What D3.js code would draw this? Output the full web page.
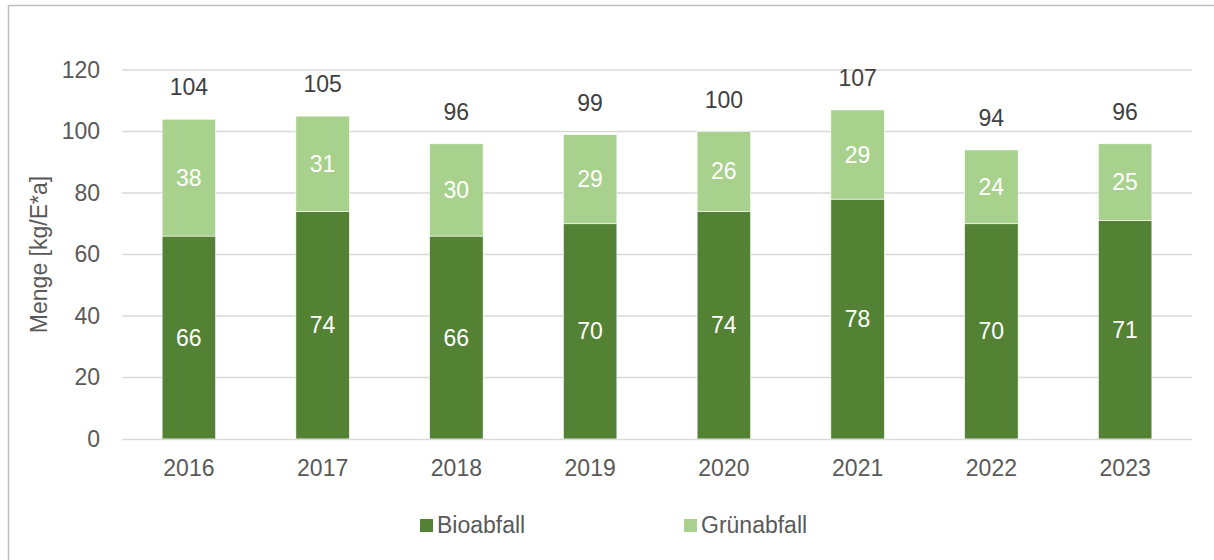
<!DOCTYPE html>
<html lang="de">
<head>
  <meta charset="UTF-8">
  <title>Bio- und Grünabfall</title>
  <script src="https://cdn.jsdelivr.net/npm/d3@7"></script>
  <style>
    body { margin: 0; background: #fff; }
    svg { display: block; font-family: "Liberation Sans", Arial, sans-serif; }
  </style>
</head>
<body>
<div id="app"></div>
<script>
  const years = ['2016', '2017', '2018', '2019', '2020', '2021', '2022', '2023'];
  const bioabfall = [66, 74, 66, 70, 74, 78, 70, 71];
  const gruenabfall = [38, 31, 30, 29, 26, 29, 24, 25];
  const totals = [104, 105, 96, 99, 100, 107, 94, 96];
  const yTicks = [0, 20, 40, 60, 80, 100, 120];
  const seriesNames = ['Bioabfall', 'Grünabfall'];
  const colors = ['#548235', '#a9d18e'];

  const w = 1214;
  const h = 560;
  const margin = { left: 122, right: 22, top: 70, bottom: 121 };
  const fs = 23;

  const svg = d3.select('#app')
    .append('svg')
    .attr('width', w)
    .attr('height', h);

  // chart frame
  svg.append('rect')
    .attr('x', 8.5)
    .attr('y', 5.5)
    .attr('width', w + 10)
    .attr('height', h + 10)
    .attr('fill', 'none')
    .attr('stroke', '#c0c0c0')
    .attr('stroke-width', 1.5);

  const xScale = d3.scaleBand()
    .domain(years)
    .range([margin.left, w - margin.right])
    .paddingInner(0.6)
    .paddingOuter(0.3);

  const yScale = d3.scaleLinear()
    .domain([0, 120])
    .range([h - margin.bottom, margin.top]);

  // gridlines
  svg.append('g')
    .selectAll('line')
    .data(yTicks.slice(1))
    .enter()
    .append('line')
    .attr('x1', margin.left)
    .attr('x2', w - margin.right)
    .attr('y1', d => yScale(d))
    .attr('y2', d => yScale(d))
    .attr('stroke', '#d9d9d9')
    .attr('stroke-width', 1.3);

  const rows = years.map((y, i) => ({ year: y, Bioabfall: bioabfall[i], 'Grünabfall': gruenabfall[i], total: totals[i] }));
  const stacked = d3.stack().keys(seriesNames)(rows);

  const layers = svg.append('g')
    .selectAll('g')
    .data(stacked)
    .enter()
    .append('g')
    .attr('fill', (d, i) => colors[i]);

  layers.selectAll('rect')
    .data(d => d)
    .enter()
    .append('rect')
    .attr('x', d => xScale(d.data.year))
    .attr('y', d => yScale(d[1]))
    .attr('width', xScale.bandwidth())
    .attr('height', d => yScale(d[0]) - yScale(d[1]))
    .attr('stroke', '#ffffff')
    .attr('stroke-width', 0.6);

  layers.selectAll('text')
    .data(d => d)
    .enter()
    .append('text')
    .attr('x', d => xScale(d.data.year) + xScale.bandwidth() / 2)
    .attr('y', d => (yScale(d[0]) + yScale(d[1])) / 2 + 8)
    .attr('text-anchor', 'middle')
    .attr('fill', '#ffffff')
    .attr('font-size', fs)
    .text(d => d[1] - d[0]);

  // totals
  svg.append('g')
    .selectAll('text')
    .data(rows)
    .enter()
    .append('text')
    .attr('x', d => xScale(d.year) + xScale.bandwidth() / 2)
    .attr('y', d => yScale(d.total) - 24)
    .attr('text-anchor', 'middle')
    .attr('fill', '#404040')
    .attr('font-size', fs)
    .text(d => d.total);

  // y axis
  const yAxis = d3.axisLeft(yScale).tickValues(yTicks).tickSize(0).tickPadding(22);
  const yG = svg.append('g')
    .attr('transform', `translate(${margin.left}, 0)`)
    .call(yAxis);
  yG.select('.domain').remove();
  yG.selectAll('text').attr('font-size', fs).attr('fill', '#595959').attr('font-family', null);

  // x axis
  const xAxis = d3.axisBottom(xScale).tickSize(0).tickPadding(21);
  const xG = svg.append('g')
    .attr('transform', `translate(0, ${h - margin.bottom})`)
    .call(xAxis);
  xG.select('.domain').attr('stroke', '#d9d9d9').attr('stroke-width', 1.3)
    .attr('d', `M${margin.left},0.5H${w - margin.right}`);
  xG.selectAll('text').attr('font-size', fs).attr('fill', '#595959').attr('font-family', null);

  // y axis title
  svg.append('text')
    .attr('transform', `translate(47, ${(yScale(0) + yScale(120)) / 2}) rotate(-90)`)
    .attr('text-anchor', 'middle')
    .attr('fill', '#595959')
    .attr('font-size', fs)
    .text('Menge [kg/E*a]');

  // legend
  const legendX = [420, 684];
  const legend = svg.append('g')
    .selectAll('g')
    .data(seriesNames)
    .enter()
    .append('g')
    .attr('transform', (d, i) => `translate(${legendX[i]}, 519)`);
  legend.append('rect')
    .attr('width', 13)
    .attr('height', 13)
    .attr('fill', (d, i) => colors[i]);
  legend.append('text')
    .attr('x', 17)
    .attr('y', 13.5)
    .attr('fill', '#595959')
    .attr('font-size', fs)
    .text(d => d);
</script>
</body>
</html>
